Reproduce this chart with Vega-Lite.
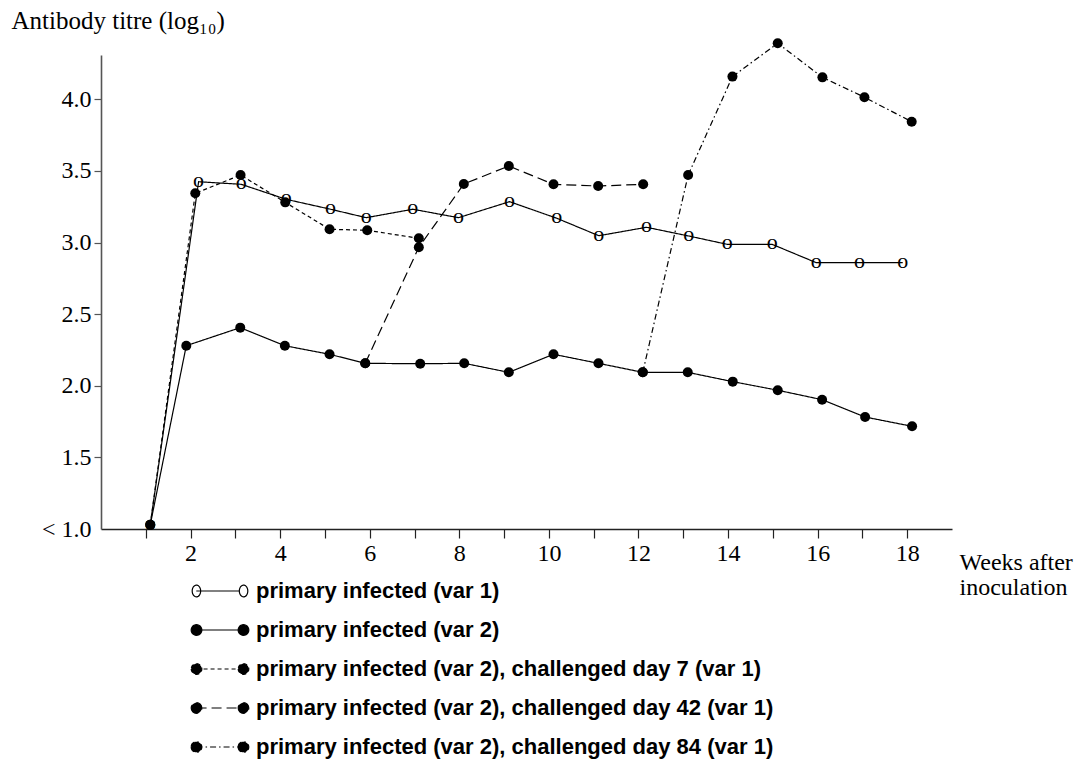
{
  "$schema": "https://vega.github.io/schema/vega-lite/v6.json",
  "autosize": "none",
  "padding": {"left": 101, "top": 55, "right": 130, "bottom": 232},
  "width": 851,
  "height": 474,
  "background": "white",
  "config": {"view": {"stroke": null}},
  "data": {"values": [
    {"series": "primary infected (var 1)", "week": 1.10, "titre": 1.03},
    {"series": "primary infected (var 1)", "week": 2.179, "titre": 3.425},
    {"series": "primary infected (var 1)", "week": 3.132, "titre": 3.407},
    {"series": "primary infected (var 1)", "week": 4.136, "titre": 3.302},
    {"series": "primary infected (var 1)", "week": 5.125, "titre": 3.233},
    {"series": "primary infected (var 1)", "week": 5.922, "titre": 3.174},
    {"series": "primary infected (var 1)", "week": 6.962, "titre": 3.233},
    {"series": "primary infected (var 1)", "week": 7.982, "titre": 3.174},
    {"series": "primary infected (var 1)", "week": 9.121, "titre": 3.286},
    {"series": "primary infected (var 1)", "week": 10.176, "titre": 3.170},
    {"series": "primary infected (var 1)", "week": 11.114, "titre": 3.048},
    {"series": "primary infected (var 1)", "week": 12.179, "titre": 3.107},
    {"series": "primary infected (var 1)", "week": 13.123, "titre": 3.046},
    {"series": "primary infected (var 1)", "week": 13.980, "titre": 2.988},
    {"series": "primary infected (var 1)", "week": 14.984, "titre": 2.988},
    {"series": "primary infected (var 1)", "week": 15.967, "titre": 2.860},
    {"series": "primary infected (var 1)", "week": 16.933, "titre": 2.860},
    {"series": "primary infected (var 1)", "week": 17.900, "titre": 2.860},
    {"series": "primary infected (var 2)", "week": 1.10, "titre": 1.03},
    {"series": "primary infected (var 2)", "week": 1.904, "titre": 2.280},
    {"series": "primary infected (var 2)", "week": 3.109, "titre": 2.406},
    {"series": "primary infected (var 2)", "week": 4.105, "titre": 2.280},
    {"series": "primary infected (var 2)", "week": 5.103, "titre": 2.220},
    {"series": "primary infected (var 2)", "week": 5.900, "titre": 2.157},
    {"series": "primary infected (var 2)", "week": 7.127, "titre": 2.154},
    {"series": "primary infected (var 2)", "week": 8.109, "titre": 2.157},
    {"series": "primary infected (var 2)", "week": 9.105, "titre": 2.094},
    {"series": "primary infected (var 2)", "week": 10.103, "titre": 2.220},
    {"series": "primary infected (var 2)", "week": 11.107, "titre": 2.157},
    {"series": "primary infected (var 2)", "week": 12.096, "titre": 2.094},
    {"series": "primary infected (var 2)", "week": 13.100, "titre": 2.094},
    {"series": "primary infected (var 2)", "week": 14.105, "titre": 2.029},
    {"series": "primary infected (var 2)", "week": 15.109, "titre": 1.969},
    {"series": "primary infected (var 2)", "week": 16.100, "titre": 1.903},
    {"series": "primary infected (var 2)", "week": 17.060, "titre": 1.782},
    {"series": "primary infected (var 2)", "week": 18.109, "titre": 1.717},
    {"series": "primary infected (var 2), challenged day 7 (var 1)", "week": 1.10, "titre": 1.03},
    {"series": "primary infected (var 2), challenged day 7 (var 1)", "week": 2.105, "titre": 3.344},
    {"series": "primary infected (var 2), challenged day 7 (var 1)", "week": 3.116, "titre": 3.472},
    {"series": "primary infected (var 2), challenged day 7 (var 1)", "week": 4.114, "titre": 3.281},
    {"series": "primary infected (var 2), challenged day 7 (var 1)", "week": 5.103, "titre": 3.093},
    {"series": "primary infected (var 2), challenged day 7 (var 1)", "week": 5.944, "titre": 3.086},
    {"series": "primary infected (var 2), challenged day 7 (var 1)", "week": 7.096, "titre": 3.030},
    {"series": "primary infected (var 2), challenged day 42 (var 1)", "week": 5.900, "titre": 2.157},
    {"series": "primary infected (var 2), challenged day 42 (var 1)", "week": 7.096, "titre": 2.967},
    {"series": "primary infected (var 2), challenged day 42 (var 1)", "week": 8.100, "titre": 3.409},
    {"series": "primary infected (var 2), challenged day 42 (var 1)", "week": 9.105, "titre": 3.535},
    {"series": "primary infected (var 2), challenged day 42 (var 1)", "week": 10.103, "titre": 3.407},
    {"series": "primary infected (var 2), challenged day 42 (var 1)", "week": 11.100, "titre": 3.395},
    {"series": "primary infected (var 2), challenged day 42 (var 1)", "week": 12.105, "titre": 3.407},
    {"series": "primary infected (var 2), challenged day 84 (var 1)", "week": 12.096, "titre": 2.094},
    {"series": "primary infected (var 2), challenged day 84 (var 1)", "week": 13.109, "titre": 3.472},
    {"series": "primary infected (var 2), challenged day 84 (var 1)", "week": 14.098, "titre": 4.159},
    {"series": "primary infected (var 2), challenged day 84 (var 1)", "week": 15.109, "titre": 4.392},
    {"series": "primary infected (var 2), challenged day 84 (var 1)", "week": 16.107, "titre": 4.154},
    {"series": "primary infected (var 2), challenged day 84 (var 1)", "week": 17.045, "titre": 4.015},
    {"series": "primary infected (var 2), challenged day 84 (var 1)", "week": 18.100, "titre": 3.844}
  ]},
  "encoding": {
    "x": {
      "field": "week", "type": "quantitative",
      "scale": {"domain": [0, 19], "nice": false, "zero": false},
      "axis": {
        "values": [1,2,3,4,5,6,7,8,9,10,11,12,13,14,15,16,17,18],
        "labelExpr": "datum.value % 2 === 0 ? datum.label : ''",
        "grid": false,
        "domainColor": "#222", "domainWidth": 1.3,
        "tickColor": "#222", "tickWidth": 1.2, "tickSize": 9,
        "labelFont": "Liberation Serif", "labelFontSize": 24, "labelColor": "black",
        "labelPadding": 3, "labelFlush": false,
        "title": ["Weeks after", "inoculation"],
        "titleFont": "Liberation Serif", "titleFontSize": 24, "titleFontWeight": "normal",
        "titleColor": "black",
        "titleAlign": "left", "titleBaseline": "alphabetic", "titleAnchor": "start",
        "titleX": 858, "titleY": 40, "titleLineHeight": 25
      }
    },
    "y": {
      "field": "titre", "type": "quantitative",
      "scale": {"domain": [1, 4.31], "nice": false, "zero": false},
      "axis": {
        "values": [1, 1.5, 2, 2.5, 3, 3.5, 4],
        "labelExpr": "datum.value === 1 ? '< 1.0' : format(datum.value, '.1f')",
        "grid": false,
        "domainColor": "#555", "domainWidth": 1.6,
        "tickColor": "#555", "tickWidth": 1.2, "tickSize": 7,
        "tickOpacity": {"condition": {"test": "datum.value === 1", "value": 0}, "value": 1},
        "labelFont": "Liberation Serif", "labelFontSize": 24, "labelColor": "black",
        "labelPadding": 3, "labelFlush": false,
        "title": "Antibody titre (log₁₀)",
        "titleFont": "Liberation Serif", "titleFontSize": 25, "titleFontWeight": "normal",
        "titleColor": "black", "titleAngle": 0,
        "titleAlign": "left", "titleBaseline": "alphabetic",
        "titleX": -90, "titleY": -27
      }
    }
  },
  "layer": [
    {
      "mark": {"type": "line", "color": "black", "strokeWidth": 1.2},
      "encoding": {
        "strokeDash": {
          "field": "series", "type": "nominal",
          "scale": {
            "domain": [
              "primary infected (var 1)",
              "primary infected (var 2)",
              "primary infected (var 2), challenged day 7 (var 1)",
              "primary infected (var 2), challenged day 42 (var 1)",
              "primary infected (var 2), challenged day 84 (var 1)"
            ],
            "range": [[1, 0], [1, 0], [4, 3], [10, 5], [6, 3, 1.5, 3]]
          },
          "legend": {
            "title": null,
            "orient": "none",
            "legendX": 91,
            "legendY": 508,
            "direction": "vertical",
            "padding": 0,
            "symbolSize": 2970,
            "symbolStrokeWidth": 1.2,
            "symbolStrokeColor": "black",
            "labelFont": "Liberation Sans",
            "labelFontSize": 22,
            "labelFontWeight": "bold",
            "labelColor": "black",
            "labelOffset": 8,
            "labelLimit": 800,
            "rowPadding": 0,
            "encode": {
              "symbols": {
                "update": {
                  "shape": {"signal": "datum.value === 'primary infected (var 1)' ? 'M-1.02,0a0.155,0.215 0 1,0 0.31,0a0.155,0.215 0 1,0 -0.31,0M0.71,0a0.155,0.215 0 1,0 0.31,0a0.155,0.215 0 1,0 -0.31,0M-0.87,0L0.71,0' : 'M-1.057,0a0.195,0.195 0 1,0 0.39,0a0.195,0.195 0 1,0 -0.39,0M0.667,0a0.195,0.195 0 1,0 0.39,0a0.195,0.195 0 1,0 -0.39,0M-0.86,0L0.86,0'"},
                  "fill": {"signal": "datum.value === 'primary infected (var 1)' ? 'transparent' : 'black'"},
                  "stroke": {"value": "black"},
                  "opacity": {"value": 1}
                }
              }
            }
          }
        }
      }
    },
    {
      "transform": [{"filter": "datum.series === 'primary infected (var 1)'"}],
      "mark": {"type": "text", "text": "o", "font": "Liberation Serif", "fontSize": 22, "baseline": "alphabetic", "align": "center", "dy": 5, "color": "black"},
      "encoding": {}
    },
    {
      "transform": [{"filter": "datum.series !== 'primary infected (var 1)'"}],
      "mark": {"type": "point", "shape": "circle", "filled": true, "color": "black", "size": 100, "opacity": 1},
      "encoding": {}
    }
  ]
}
